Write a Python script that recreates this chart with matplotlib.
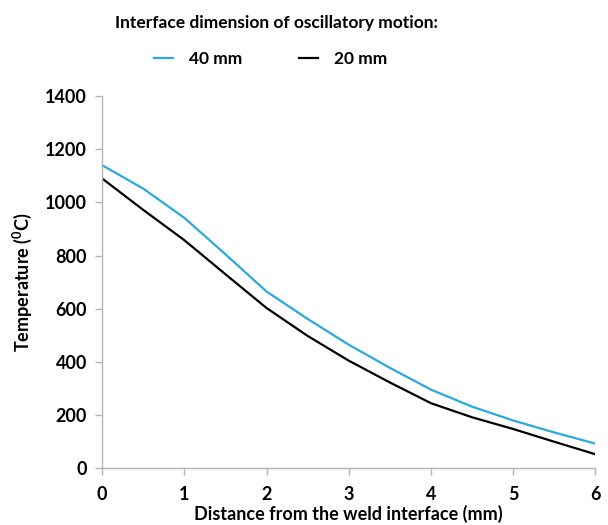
import matplotlib
matplotlib.use("Agg")
import matplotlib.pyplot as plt

plt.rcParams['font.family'] = ['Lato', 'DejaVu Sans']
plt.rcParams['font.weight'] = 'bold'
plt.rcParams['mathtext.fontset'] = 'custom'
plt.rcParams['mathtext.rm'] = 'Lato:bold'
plt.rcParams['mathtext.default'] = 'rm'

# distance from the weld interface (mm)
distance = [0, 0.5, 1, 1.5, 2, 2.5, 3, 3.5, 4, 4.5, 5, 5.5, 6]
# temperature (C) for each interface dimension
temp_40mm = [1140, 1052, 942, 805, 665, 562, 465, 378, 296, 232, 180, 135, 93]
temp_20mm = [1090, 972, 858, 730, 603, 498, 405, 323, 245, 192, 148, 100, 53]

series_labels = ['40 mm', '20 mm']
x_ticks = [0, 1, 2, 3, 4, 5, 6]
y_ticks = [0, 200, 400, 600, 800, 1000, 1200, 1400]

fig = plt.figure(figsize=(6.08, 5.25), dpi=100)
ax = fig.add_axes([0.168, 0.108, 0.811, 0.709])

ax.plot(distance, temp_40mm, color='#29a9e0', lw=1.6, label=series_labels[0])
ax.plot(distance, temp_20mm, color='black', lw=1.6, label=series_labels[1])

ax.set_xlim(0, 6)
ax.set_ylim(0, 1400)
ax.set_xticks(x_ticks)
ax.set_yticks(y_ticks)

for s in ['top', 'right']:
    ax.spines[s].set_visible(False)
for s in ['left', 'bottom']:
    ax.spines[s].set_color('#b4b4b4')
    ax.spines[s].set_linewidth(1.0)
ax.tick_params(axis='both', colors='#b4b4b4', length=5, width=1.0,
               labelcolor='black', labelsize=13)
ax.tick_params(axis='x', pad=8)
ax.tick_params(axis='y', pad=6)
for lbl in ax.get_xticklabels() + ax.get_yticklabels():
    lbl.set_fontweight('bold')

ax.set_xlabel('Distance from the weld interface (mm)', fontsize=13,
              fontweight='bold', labelpad=1)
ax.set_ylabel('Temperature ($^{0}$C)', fontsize=13, fontweight='bold',
              labelpad=8)

fig.text(0.455, 0.957, 'Interface dimension of oscillatory motion:',
         ha='center', va='center', fontsize=12.5, fontweight='bold')
fig.legend(loc='center', bbox_to_anchor=(0.445, 0.888), ncol=2, frameon=False,
           handlelength=1.1, handletextpad=0.9, columnspacing=3.3,
           prop={'size': 12.5, 'weight': 'bold'})

fig.savefig('out.png', dpi=100)
